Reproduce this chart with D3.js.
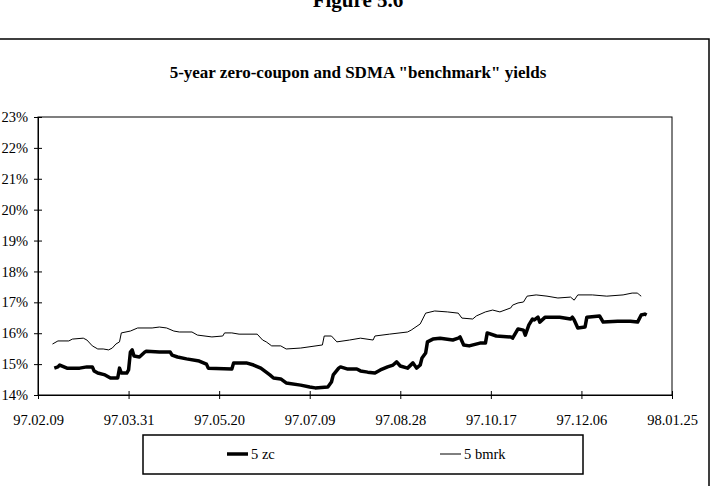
<!DOCTYPE html>
<html>
<head>
<meta charset="utf-8">
<script src="https://cdn.jsdelivr.net/npm/d3@7/dist/d3.min.js"></script>
<style>
  body { margin: 0; background: #fff; }
  svg { display: block; }
  svg text { font-family: "Liberation Serif", "DejaVu Serif", serif; fill: #000; }
</style>
</head>
<body>
<svg id="chart" width="716" height="486"></svg>
<script>
// 5-year zero-coupon yield (%)
const zcDates = [
  "1997-02-18","1997-02-20","1997-02-21","1997-02-25","1997-03-04","1997-03-08","1997-03-11","1997-03-12",
  "1997-03-14","1997-03-18","1997-03-21","1997-03-25","1997-03-26","1997-03-27","1997-03-30","1997-03-31",
  "1997-04-01","1997-04-02","1997-04-03","1997-04-06","1997-04-09","1997-04-10","1997-04-17","1997-04-23",
  "1997-04-24","1997-04-27","1997-05-02","1997-05-09","1997-05-13","1997-05-14","1997-05-27","1997-05-28",
  "1997-06-04","1997-06-08","1997-06-12","1997-06-17","1997-06-19","1997-06-23","1997-06-26","1997-07-04",
  "1997-07-09","1997-07-12","1997-07-19","1997-07-21","1997-07-22","1997-07-25","1997-07-26","1997-07-30",
  "1997-08-04","1997-08-06","1997-08-10","1997-08-14","1997-08-17","1997-08-21","1997-08-24","1997-08-26",
  "1997-08-28","1997-09-01","1997-09-04","1997-09-06","1997-09-08","1997-09-09","1997-09-11","1997-09-12",
  "1997-09-15","1997-09-19","1997-09-26","1997-09-29","1997-09-30","1997-10-02","1997-10-05","1997-10-11",
  "1997-10-14","1997-10-15","1997-10-20","1997-10-28","1997-10-29","1997-11-01","1997-11-04","1997-11-05",
  "1997-11-07","1997-11-09","1997-11-10","1997-11-12","1997-11-13","1997-11-16","1997-11-24","1997-11-30",
  "1997-12-01","1997-12-02","1997-12-04","1997-12-08","1997-12-09","1997-12-16","1997-12-18","1997-12-26",
  "1998-01-02","1998-01-06","1998-01-08","1998-01-10","1998-01-11"
];
const zcValues = [
  14.87,14.91,14.97,14.87,14.87,14.91,14.91,14.78,
  14.71,14.65,14.55,14.55,14.87,14.71,14.71,14.81,
  15.39,15.46,15.26,15.23,15.39,15.42,15.39,15.39,
  15.29,15.23,15.17,15.10,15.00,14.87,14.84,15.04,
  15.04,14.97,14.87,14.65,14.55,14.52,14.39,14.32,
  14.26,14.23,14.26,14.42,14.65,14.87,14.91,14.84,
  14.84,14.78,14.74,14.71,14.81,14.91,14.97,15.07,
  14.94,14.87,15.04,14.87,14.97,15.20,15.36,15.72,
  15.81,15.84,15.78,15.84,15.88,15.62,15.59,15.68,
  15.68,16.01,15.91,15.88,15.84,16.14,16.10,15.94,
  16.27,16.46,16.43,16.52,16.36,16.52,16.52,16.46,
  16.52,16.43,16.17,16.20,16.52,16.56,16.36,16.39,
  16.39,16.36,16.59,16.62,16.59
];

// 5-year SDMA "benchmark" yield (%)
const bmrkDates = [
  "1997-02-17","1997-02-20","1997-02-26","1997-02-28","1997-03-06","1997-03-08","1997-03-11","1997-03-14",
  "1997-03-17","1997-03-20","1997-03-22","1997-03-24","1997-03-26","1997-03-27","1997-04-01","1997-04-05",
  "1997-04-13","1997-04-17","1997-04-21","1997-04-25","1997-04-28","1997-05-05","1997-05-08","1997-05-16",
  "1997-05-22","1997-05-23","1997-05-27","1997-05-31","1997-06-10","1997-06-13","1997-06-15","1997-06-18",
  "1997-06-23","1997-06-26","1997-07-04","1997-07-16","1997-07-17","1997-07-21","1997-07-24","1997-07-31",
  "1997-08-06","1997-08-13","1997-08-14","1997-08-22","1997-09-01","1997-09-03","1997-09-08","1997-09-11",
  "1997-09-16","1997-09-23","1997-09-29","1997-10-01","1997-10-07","1997-10-09","1997-10-14","1997-10-18",
  "1997-10-22","1997-10-28","1997-10-29","1997-11-01","1997-11-04","1997-11-06","1997-11-11","1997-11-17",
  "1997-11-23","1997-11-30","1997-12-02","1997-12-04","1997-12-12","1997-12-20","1997-12-29","1998-01-03",
  "1998-01-06","1998-01-07","1998-01-08"
];
const bmrkValues = [
  15.65,15.75,15.75,15.81,15.84,15.78,15.59,15.49,
  15.49,15.46,15.52,15.65,15.72,16.01,16.07,16.17,
  16.17,16.20,16.17,16.07,16.04,16.04,15.94,15.88,
  15.91,16.01,16.01,15.97,15.97,15.78,15.72,15.59,
  15.59,15.49,15.52,15.62,15.91,15.91,15.72,15.78,
  15.84,15.78,15.91,15.97,16.04,16.10,16.30,16.65,
  16.72,16.69,16.65,16.49,16.46,16.56,16.69,16.75,
  16.69,16.82,16.91,16.98,17.01,17.20,17.24,17.20,
  17.14,17.17,17.07,17.24,17.24,17.20,17.24,17.30,
  17.30,17.24,17.20
];

const xTickLabels = ["97.02.09","97.03.31","97.05.20","97.07.09","97.08.28","97.10.17","97.12.06","98.01.25"];
const yTickValues = [14, 15, 16, 17, 18, 19, 20, 21, 22, 23];

const figureTitle = "Figure 5.6";
const chartTitle = '5-year zero-coupon and SDMA "benchmark" yields';
const seriesNames = ["5 zc", "5 bmrk"];

const width = 716, height = 486;
const margin = { top: 117, right: 44, bottom: 91, left: 38 };

const svg = d3.select("#chart");
const parse = d3.timeParse("%Y-%m-%d");
const parseTick = d3.timeParse("%y.%m.%d");

const zc = zcDates.map((d, i) => ({ date: parse(d), value: zcValues[i] }));
const bmrk = bmrkDates.map((d, i) => ({ date: parse(d), value: bmrkValues[i] }));
const tickDates = xTickLabels.map(parseTick);

const x = d3.scaleTime()
    .domain([tickDates[0], tickDates[tickDates.length - 1]])
    .range([margin.left, width - margin.right]);

const y = d3.scaleLinear()
    .domain([14, 23])
    .range([height - margin.bottom, margin.top]);

// outer chart frame
svg.append("rect")
    .attr("x", -1)
    .attr("y", 39)
    .attr("width", 710)
    .attr("height", 470)
    .attr("fill", "none")
    .attr("stroke", "#000")
    .attr("stroke-width", 1.5);

svg.append("text")
    .attr("x", 358)
    .attr("y", 7)
    .attr("text-anchor", "middle")
    .style("font-size", "21px")
    .style("font-weight", "bold")
    .text(figureTitle);

svg.append("text")
    .attr("x", 358)
    .attr("y", 78)
    .attr("text-anchor", "middle")
    .style("font-size", "17px")
    .style("font-weight", "bold")
    .text(chartTitle);

// plot area border
svg.append("rect")
    .attr("x", margin.left)
    .attr("y", margin.top)
    .attr("width", width - margin.left - margin.right)
    .attr("height", height - margin.top - margin.bottom)
    .attr("fill", "none")
    .attr("stroke", "#000")
    .attr("stroke-width", 1);

const xAxis = svg.append("g")
    .attr("transform", `translate(0,${height - margin.bottom})`)
    .call(d3.axisBottom(x)
        .tickValues(tickDates)
        .tickFormat((d, i) => xTickLabels[i])
        .tickSizeInner(4)
        .tickSizeOuter(0)
        .tickPadding(16));

const yAxis = svg.append("g")
    .attr("transform", `translate(${margin.left},0)`)
    .call(d3.axisLeft(y)
        .tickValues(yTickValues)
        .tickFormat(d => d + "%")
        .tickSizeInner(4)
        .tickSizeOuter(0)
        .tickPadding(6));

[xAxis, yAxis].forEach(g => {
    g.attr("font-family", null);
    g.select(".domain").attr("stroke", "#000");
    g.selectAll("text")
        .attr("fill", "#000")
        .style("font-size", "14.5px");
});
// ticks cross the axis line
xAxis.selectAll(".tick line").attr("y1", -4).attr("y2", 4).attr("stroke", "#000");
yAxis.selectAll(".tick line").attr("x1", -4).attr("x2", 4).attr("stroke", "#000");

const line = d3.line()
    .x(d => x(d.date))
    .y(d => y(d.value));

svg.append("path")
    .datum(bmrk)
    .attr("fill", "none")
    .attr("stroke", "#000")
    .attr("stroke-width", 1)
    .attr("stroke-linejoin", "round")
    .attr("d", line);

svg.append("path")
    .datum(zc)
    .attr("fill", "none")
    .attr("stroke", "#000")
    .attr("stroke-width", 3.5)
    .attr("stroke-linejoin", "round")
    .attr("d", line);

// legend
const legend = svg.append("g");
legend.append("rect")
    .attr("x", 143)
    .attr("y", 435)
    .attr("width", 440)
    .attr("height", 39)
    .attr("fill", "#fff")
    .attr("stroke", "#000")
    .attr("stroke-width", 1.5);

const legendItems = [
    { name: seriesNames[0], x: 227, w: 3.5 },
    { name: seriesNames[1], x: 440, w: 1 }
];
legendItems.forEach(item => {
    legend.append("line")
        .attr("x1", item.x)
        .attr("x2", item.x + 21)
        .attr("y1", 454)
        .attr("y2", 454)
        .attr("stroke", "#000")
        .attr("stroke-width", item.w);
    legend.append("text")
        .attr("x", item.x + 24)
        .attr("y", 459)
        .style("font-size", "14.5px")
        .text(item.name);
});
</script>
</body>
</html>
